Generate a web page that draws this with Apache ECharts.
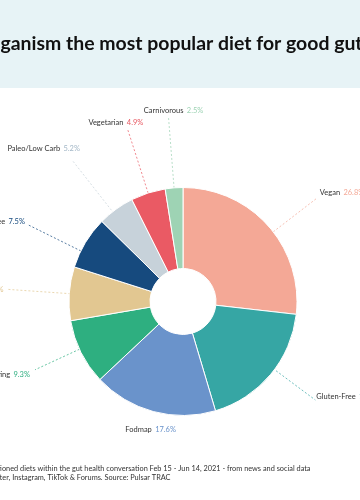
<!DOCTYPE html>
<html><head><meta charset="utf-8">
<script src="https://cdn.jsdelivr.net/npm/echarts@6/dist/echarts.min.js"></script>
<style>html,body{margin:0;padding:0;background:#fff}#c{width:360px;height:500px}</style>
</head><body><div id="c"></div>
<script>
// ---- data ----
const categories = ['Vegan','Gluten-Free','Fodmap','Intermittent Fasting','Keto','Dairy-Free','Paleo/Low Carb','Vegetarian','Carnivorous'];
const shares = [26.8,18.6,17.6,9.3,7.6,7.5,5.2,4.9,2.5];
const titleText = 'Is Veganism the most popular diet for good gut health?';
const noteLine1 = 'Most mentioned diets within the gut health conversation Feb 15 - Jun 14, 2021 - from news and social data';
const noteLine2 = 'including Twitter, Instagram, TikTok & Forums. Source: Pulsar TRAC';

// ---- styles / layout ----
const colors = ['#f4a896','#36a6a4','#6a93cb','#2eaf80','#e2c791','#164a7e','#c7d2da','#ea5a64','#9ed3b4'];
const pctColors = ['#f4a896','#36a6a4','#6a93cb','#2eaf80','#e0c48e','#164a7e','#a3b7c7','#e85a63','#9ed3b4'];
const CX = 183, CY = 301.5;
const LABEL_SIZE = 7.5;
// guide-line placement relative to each slice's mid angle
const labelPlace = [
  {dth: 4.1, r0:114, r1:169, align:'left',   dx: 3, dy:-6},
  {dth:-3.3, r0: 88, r1:165, align:'left',   dx: 1, dy:-3},
  {dth:-2.0, r0:112, r1:116, align:'center', dx:-6, dy:15},
  {dth: 1.7, r0: 94, r1:163, align:'right',  dx:-5, dy: 5},
  {dth: 0.0, r0:113, r1:175, align:'right',  dx:-5, dy: 0},
  {dth:-4.8, r0:114, r1:173, align:'right',  dx:-3, dy:-3},
  {dth:-2.1, r0:112, r1:180, align:'right',  dx: 8, dy:-11},
  {dth: 0.0, r0:114, r1:182, align:'right',  dx:16, dy:-6},
  {dth: 0.0, r0:114, r1:184, align:'center', dx: 5, dy:-7}
];

const cv = document.createElement('canvas').getContext('2d');
function measure(txt, font){ cv.font = font; return cv.measureText(txt).width; }

// title sizing: visible part spans the width
let tFont = 'bold 18px Lato';
const tw = measure('ganism the most popular diet for good gu', tFont);
const tSize = 18 * 355 / tw;
tFont = 'bold ' + tSize.toFixed(2) + 'px Lato';
const tX = 0.5 - measure('Is Ve', tFont);

let nFont = '8px Lato';
const nw = measure('ationed diets within the gut health conversation Feb 15 - Jun 14, 2021 - from news and social data', nFont);
const nSize = 8 * 317 / nw;
nFont = nSize.toFixed(2) + 'px Lato';
const n1X = 0 - measure('Most ment', nFont);
const n2X = 0 - measure('including Twit', nFont);

const rich = { n: { color:'#333333', fontSize:LABEL_SIZE, fontFamily:'Lato' } };
pctColors.forEach((c,i)=>{ rich['p'+i] = { color:c, fontSize:LABEL_SIZE, fontFamily:'Lato' }; });

const chart = echarts.init(document.getElementById('c'), null, {renderer:'canvas'});
chart.setOption({
  animation:false,
  backgroundColor:'#ffffff',
  graphic:[
    {type:'rect', shape:{x:0,y:0,width:360,height:88}, style:{fill:'#e7f3f6'}, z:-1},
    {type:'text', x:tX, y:44, style:{text:titleText, font:tFont, fill:'#111111', textAlign:'left', textVerticalAlign:'middle'}},
    {type:'text', x:n1X, y:469, style:{text:noteLine1, font:nFont, fill:'#333333', textAlign:'left', textVerticalAlign:'middle'}},
    {type:'text', x:n2X, y:478, style:{text:noteLine2, font:nFont, fill:'#333333', textAlign:'left', textVerticalAlign:'middle'}}
  ],
  series:[{
    type:'pie',
    center:[CX, CY],
    radius:[33,114],
    startAngle:90,
    clockwise:true,
    avoidLabelOverlap:false,
    emphasis:{disabled:true},
    itemStyle:{borderColor:'#ffffff', borderWidth:1},
    label:{
      show:true, position:'outside',
      formatter: p => '{n|' + p.name + '} {p' + p.dataIndex + '|' + p.value + '%}',
      rich: rich
    },
    labelLine:{show:true, length:10, length2:0, lineStyle:{width:0.8, type:[2,2], opacity:0.9}},
    labelLayout: function(p){
      const i = p.dataIndex, L = labelPlace[i];
      let mid;
      if (p.labelLinePoints && p.labelLinePoints[0]) {
        const pt = p.labelLinePoints[0];
        mid = Math.atan2(pt[0]-CX, CY-pt[1]);
      } else {
        let before = 0; for (let k=0;k<i;k++) before += shares[k];
        const tot = shares.reduce((a,b)=>a+b,0);
        mid = (before + shares[i]/2)/tot*2*Math.PI;
      }
      const th = mid + L.dth*Math.PI/180;
      const s = Math.sin(th), c = Math.cos(th);
      const sx = CX + L.r0*s, sy = CY - L.r0*c;
      const ex = CX + L.r1*s, ey = CY - L.r1*c;
      return {x: ex + L.dx, y: ey + L.dy, align: L.align, verticalAlign:'middle',
              labelLinePoints:[[sx,sy],[ex,ey]]};
    },
    data: categories.map((name,i)=>({name:name, value:shares[i], itemStyle:{color:colors[i]}}))
  }]
});
</script>
</body></html>
